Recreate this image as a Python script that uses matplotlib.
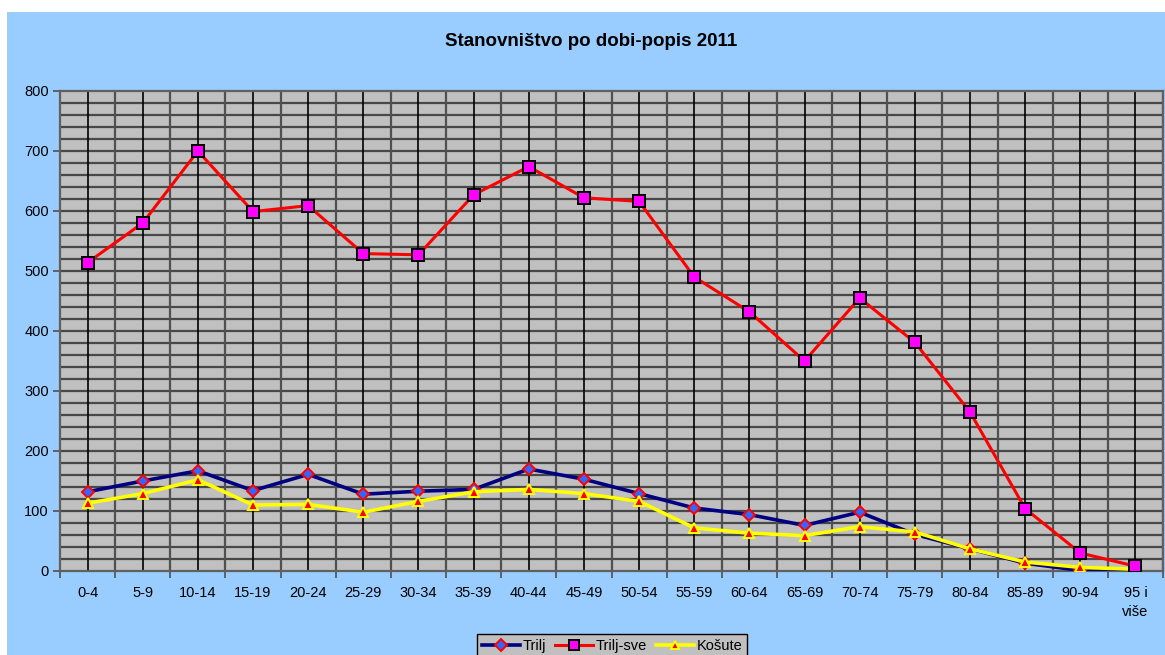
import matplotlib
matplotlib.use("Agg")
import matplotlib.pyplot as plt
from matplotlib.patches import Rectangle
import numpy as np

categories = ["0-4", "5-9", "10-14", "15-19", "20-24", "25-29", "30-34", "35-39",
              "40-44", "45-49", "50-54", "55-59", "60-64", "65-69", "70-74", "75-79",
              "80-84", "85-89", "90-94", "95 i\nviše"]
trilj = [132, 150, 167, 134, 161, 128, 133, 136, 170, 153, 129, 105, 94, 76, 98, 61, 37, 13, 1, 1]
trilj_sve = [514, 580, 700, 599, 609, 529, 527, 627, 674, 622, 616, 490, 432, 350, 455, 381, 265, 104, 30, 8]
kosute = [113, 129, 152, 110, 111, 98, 116, 132, 136, 129, 116, 72, 63, 59, 74, 65, 37, 15, 6, 3]
title = "Stanovništvo po dobi-popis 2011"

plt.rcParams['font.family'] = ['Liberation Sans', 'DejaVu Sans']

W, H = 1165, 655
fig = plt.figure(figsize=(W / 100, H / 100), dpi=100, facecolor="white")
# blue chart area
fig.patches.append(Rectangle((7 / W, 0), 1 - 7 / W, 1 - 12 / H, transform=fig.transFigure,
                             facecolor="#99ccff", edgecolor="none", zorder=-5))

left, right, top, bottom = 60, 1163, 91, 571
ax = fig.add_axes([left / W, 1 - bottom / H, (right - left) / W, (bottom - top) / H])
ax.set_facecolor("#c0c0c0")

n = len(categories)
x = np.arange(n)
ax.set_xlim(-0.5, n - 0.5)
ax.set_ylim(0, 800)

# grid lines
for yv in range(20, 800, 20):
    ax.axhline(yv, color="#484848", lw=1.6, zorder=1)
for xb in np.arange(-0.5, n, 1.0)[1:]:
    ax.axvline(xb, color="#505050", lw=1.6, zorder=1)
for xc in x:
    ax.axvline(xc, color="black", lw=1.2, zorder=1)

ax.plot(x, trilj, color="#000080", lw=2.6, marker="D", markersize=6.5,
        markerfacecolor="#3366ff", markeredgecolor="red", markeredgewidth=1.4,
        label="Trilj", zorder=3)
ax.plot(x, trilj_sve, color="red", lw=2.2, marker="s", markersize=8,
        markerfacecolor="#ff00ff", markeredgecolor="black", markeredgewidth=1.4,
        label="Trilj-sve", zorder=4)
ax.plot(x, kosute, color="yellow", lw=2.6, marker="^", markersize=7,
        markerfacecolor="red", markeredgecolor="yellow", markeredgewidth=1.4,
        label="Košute", zorder=3)

ax.set_yticks(range(0, 801, 100))
ax.set_xticks(x)
ax.set_xticklabels(categories, fontsize=10.5)
ax.set_xticks(np.arange(-0.5, n, 1.0), minor=True)
ax.tick_params(axis="x", which="major", length=0, pad=11)
ax.tick_params(axis="x", which="minor", length=5, width=1.2, color="#505050")
ax.tick_params(axis="y", length=5, width=1.2, color="#505050", labelsize=10.5, pad=3)
for lab in ax.get_xticklabels():
    lab.set_verticalalignment("top")
    lab.set_linespacing(1.4)

for s in ax.spines.values():
    s.set_color("#606060")
    s.set_linewidth(1.6)

fig.text(591 / W, 1 - 42 / H, title, ha="center", va="center", fontsize=13.5, fontweight="bold")

leg = fig.legend(loc="upper center", bbox_to_anchor=(612 / W, 1 - 634 / H), ncol=3,
                 fontsize=10.5, frameon=True, fancybox=False, facecolor="#c0c0c0",
                 edgecolor="black", handlelength=2.6, handletextpad=0.2,
                 columnspacing=0.6, borderpad=0.35, borderaxespad=0, markerscale=0.9,
                 framealpha=1)
leg.get_frame().set_linewidth(1.0)

fig.savefig("out.png", dpi=100, facecolor="white")
